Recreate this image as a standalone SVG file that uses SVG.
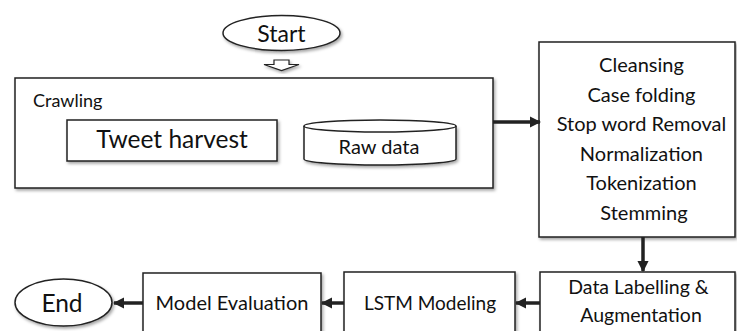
<svg xmlns="http://www.w3.org/2000/svg" width="737" height="331" viewBox="0 0 737 331">
<defs>
<filter id="sh" x="-10%" y="-10%" width="130%" height="140%">
<feDropShadow dx="1.5" dy="2" stdDeviation="1.5" flood-color="#000" flood-opacity="0.35"/>
</filter>
<marker id="ah" viewBox="0 0 10 10" refX="9" refY="5" markerWidth="3.2" markerHeight="3.2" orient="auto" markerUnits="strokeWidth">
<path d="M0,0 L10,5 L0,10 z" fill="#222"/>
</marker>
</defs>
<style>
.box{fill:#fff;stroke:#222;stroke-width:1.5}
.t{font-family:Lato,"Open Sans",sans-serif;fill:#111;text-anchor:middle}
.conn{stroke:#222;stroke-width:3.5;fill:none;marker-end:url(#ah)}
</style>
<rect width="737" height="331" fill="#fff"/>
<g id="start">
<ellipse class="box" cx="281.5" cy="33" rx="58.5" ry="17.5" filter="url(#sh)"/>
<text class="t" x="281.5" y="41.5" font-size="23">Start</text>
</g>
<g id="crawling">
<rect class="box" x="15" y="78" width="478" height="110" filter="url(#sh)"/>
<text class="t" x="33" y="107" font-size="18" style="text-anchor:start">Crawling</text>
</g>
<g id="tweet-harvest">
<rect class="box" x="67" y="120" width="210" height="41" filter="url(#sh)"/>
<text class="t" x="172" y="148" font-size="24.5">Tweet harvest</text>
</g>
<g id="raw-data">
<path class="box" d="M304,126 L304,159 A76,6 0 0 0 456,159 L456,126" filter="url(#sh)"/>
<ellipse class="box" cx="380" cy="126" rx="76" ry="6"/>
<text class="t" x="379" y="154" font-size="20">Raw data</text>
</g>
<g id="preprocessing">
<rect class="box" x="539" y="42" width="196" height="195" filter="url(#sh)"/>
<text class="t" font-size="20">
<tspan x="644" y="72">Cleansing</tspan>
<tspan x="644" y="102">Case folding</tspan>
<tspan x="644" y="131">Stop word Removal</tspan>
<tspan x="644" y="161">Normalization</tspan>
<tspan x="644" y="190">Tokenization</tspan>
<tspan x="644" y="220">Stemming</tspan>
</text>
</g>
<g id="labelling">
<rect class="box" x="540" y="272" width="195" height="64" filter="url(#sh)"/>
<text class="t" font-size="19.5">
<tspan x="641" y="294">Data Labelling &amp;</tspan>
<tspan x="641" y="322">Augmentation</tspan>
</text>
</g>
<g id="lstm">
<rect class="box" x="344" y="272" width="171" height="64" filter="url(#sh)"/>
<text class="t" x="430" y="310" font-size="19">LSTM Modeling</text>
</g>
<g id="evaluation">
<rect class="box" x="143" y="273" width="178" height="63" filter="url(#sh)"/>
<text class="t" x="232" y="310" font-size="20">Model Evaluation</text>
</g>
<g id="end">
<ellipse class="box" cx="63.5" cy="302.5" rx="48.5" ry="23.5" filter="url(#sh)"/>
<text class="t" x="62" y="311.5" font-size="24.5">End</text>
</g>
<g id="connectors">
<path d="M274,60 L289,60 L289,64.5 L299,64.5 L281.5,70.5 L264,64.5 L274,64.5 Z" fill="#fff" stroke="#222" stroke-width="1.2" filter="url(#sh)"/>
<line class="conn" x1="493" y1="122" x2="540" y2="122"/>
<line class="conn" x1="643" y1="237" x2="643" y2="271"/>
<line class="conn" x1="540" y1="303" x2="516" y2="303"/>
<line class="conn" x1="344" y1="303" x2="322" y2="303"/>
<line class="conn" x1="143" y1="303" x2="114" y2="303"/>
</g>
</svg>
